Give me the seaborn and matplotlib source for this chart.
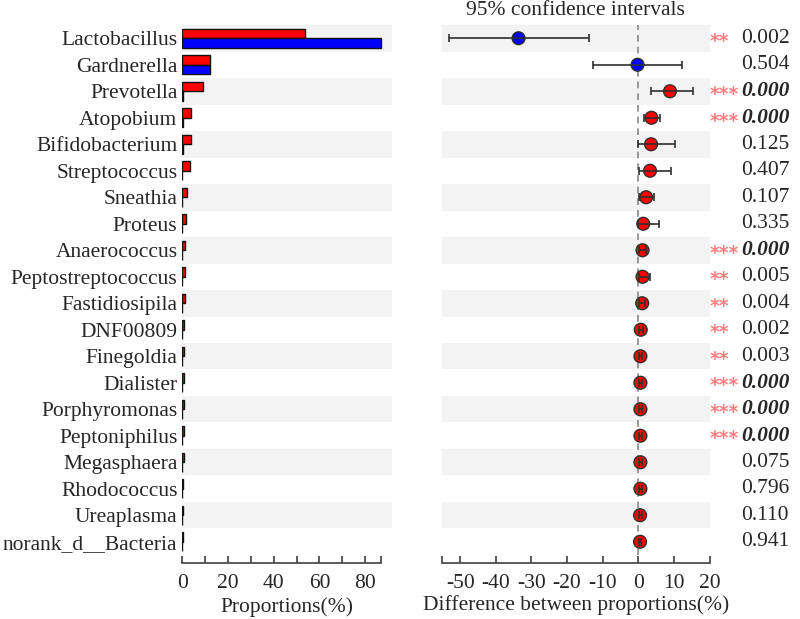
import numpy as np
import pandas as pd
import matplotlib.pyplot as plt
import seaborn as sns
from matplotlib.ticker import FixedLocator
from matplotlib.transforms import blended_transform_factory

# genera, top to bottom
genera = ["Lactobacillus", "Gardnerella", "Prevotella", "Atopobium", "Bifidobacterium",
          "Streptococcus", "Sneathia", "Proteus", "Anaerococcus", "Peptostreptococcus",
          "Fastidiosipila", "DNF00809", "Finegoldia", "Dialister", "Porphyromonas",
          "Peptoniphilus", "Megasphaera", "Rhodococcus", "Ureaplasma", "norank_d__Bacteria"]

# mean proportions (%) for the two groups (red / blue)
group1_pct = [53.6, 12.0, 9.0, 3.8, 3.7, 3.3, 2.1, 1.4, 1.1, 1.1,
              1.0, 0.7, 0.7, 0.6, 0.6, 0.6, 0.6, 0.5, 0.45, 0.4]
group2_pct = [87.0, 12.2, 0.1, 0.1, 0.1, 0.05, 0.0, 0.0, 0.03, 0.03,
              0.02, 0.01, 0.02, 0.02, 0.01, 0.01, 0.05, 0.0, 0.05, 0.0]

# difference between proportions and 95% CI
diff_mean = [-33.6, -0.2, 8.9, 3.7, 3.6, 3.3, 2.2, 1.4, 1.2, 1.2,
             1.1, 0.7, 0.6, 0.6, 0.6, 0.6, 0.6, 0.6, 0.5, 0.5]
ci_low = [-53.0, -12.8, 3.6, 1.7, 0.0, 0.1, 0.2, 0.0, 0.2, 0.1,
          0.3, 0.2, 0.2, 0.2, 0.2, 0.2, 0.1, 0.3, 0.1, 0.3]
ci_high = [-13.8, 12.2, 15.4, 6.1, 10.4, 9.2, 4.5, 5.8, 2.2, 3.3,
           2.0, 1.3, 1.1, 1.0, 1.0, 1.0, 1.1, 1.0, 1.0, 0.8]

p_values = ["0.002", "0.504", "0.000", "0.000", "0.125", "0.407", "0.107", "0.335", "0.000", "0.005",
            "0.004", "0.002", "0.003", "0.000", "0.000", "0.000", "0.075", "0.796", "0.110", "0.941"]
stars = ["**", "", "***", "***", "", "", "", "", "***", "**",
         "**", "**", "**", "***", "***", "***", "", "", "", ""]

RED = "#FF0000"
BLUE = "#0000FF"
BAND = "#F3F3F3"
STAR = "#FF7F7F"
AXC = "#404040"
FS = 15.5

sns.set_style("white")
plt.rcParams["font.family"] = ["Liberation Serif", "DejaVu Serif"]
plt.rcParams["axes.unicode_minus"] = False

fig = plt.figure(figsize=(8, 6.19), dpi=100)
ax_bar = fig.add_axes([0.2279, 0.1034, 0.2617, 0.8562])
ax_ci = fig.add_axes([0.5529, 0.1034, 0.334, 0.8562])

n = len(genera)
rows = np.arange(n)

# alternating grey bands
for ax in (ax_bar, ax_ci):
    for i in range(0, n, 2):
        ax.axhspan(i - 0.5, i + 0.5, color=BAND, lw=0, zorder=0)

# left: proportions
long = pd.DataFrame({
    "genus": genera * 2,
    "pct": group1_pct + group2_pct,
    "group": ["g1"] * n + ["g2"] * n,
})
sns.barplot(data=long, x="pct", y="genus", hue="group", order=genera,
            hue_order=["g1", "g2"], palette=[RED, BLUE], orient="h",
            width=0.7, saturation=1, edgecolor="#111111", linewidth=1,
            legend=False, ax=ax_bar, zorder=2)

xmax_bar = max(max(group1_pct), max(group2_pct))
ax_bar.set_xlim(0, 91.6)
ax_bar.set_ylim(n - 0.5, -0.5)
ax_bar.xaxis.set_major_locator(FixedLocator([0, 20, 40, 60, 80]))
ax_bar.xaxis.set_minor_locator(FixedLocator([10, 30, 50, 70, xmax_bar]))
ax_bar.spines["bottom"].set_bounds(0, xmax_bar)
ax_bar.set_xlabel("Proportions(%)", fontsize=FS, labelpad=3)
ax_bar.set_ylabel("")
ax_bar.tick_params(axis="y", length=0, pad=3.5, labelsize=FS)

# right: difference with CI
ax_ci.axvline(0, color="#888888", lw=1.2, ls=(0, (4, 3)), zorder=1)
sides = ["g2" if d < 0 else "g1" for d in diff_mean]
sns.scatterplot(x=diff_mean, y=rows, hue=sides, palette={"g1": RED, "g2": BLUE},
                s=85, edgecolor="#303030", linewidth=1, legend=False,
                ax=ax_ci, zorder=3)
d = np.array(diff_mean)
xerr = [d - np.array(ci_low), np.array(ci_high) - d]
ax_ci.errorbar(d, rows, xerr=xerr, fmt="none", ecolor="#303030",
               elinewidth=1.2, capsize=3, capthick=1.2, zorder=4)

ax_ci.set_xlim(-55, 20)
ax_ci.set_ylim(n - 0.5, -0.5)
ax_ci.xaxis.set_major_locator(FixedLocator(list(range(-50, 21, 10))))
ax_ci.xaxis.set_minor_locator(FixedLocator([-55]))
ax_ci.set_yticks([])
ax_ci.set_xlabel("Difference between proportions(%)", fontsize=FS, labelpad=1)
ax_ci.set_title("95% confidence intervals", fontsize=FS, pad=7)

for ax in (ax_bar, ax_ci):
    for s in ("left", "right", "top"):
        ax.spines[s].set_visible(False)
    ax.spines["bottom"].set_position(("outward", 6))
    ax.spines["bottom"].set_color(AXC)
    ax.spines["bottom"].set_linewidth(1.2)
    ax.tick_params(axis="x", which="both", direction="in", length=5, width=1.2,
                   color=AXC, labelsize=FS, pad=8, bottom=True)

# stars and p-values
tr = blended_transform_factory(fig.transFigure, ax_ci.transData)
for i in range(n):
    if stars[i]:
        ax_ci.text(710 / 800, i + 0.33, stars[i], transform=tr, color=STAR,
                   fontsize=13.5, fontweight="bold", family="DejaVu Sans",
                   ha="left", va="baseline")
    bold = p_values[i] == "0.000"
    ax_ci.text(741 / 800, i, p_values[i], transform=tr, fontsize=FS,
               fontweight="bold" if bold else "normal",
               fontstyle="italic" if bold else "normal",
               ha="left", va="center")

fig.savefig("out.png", dpi=100)
